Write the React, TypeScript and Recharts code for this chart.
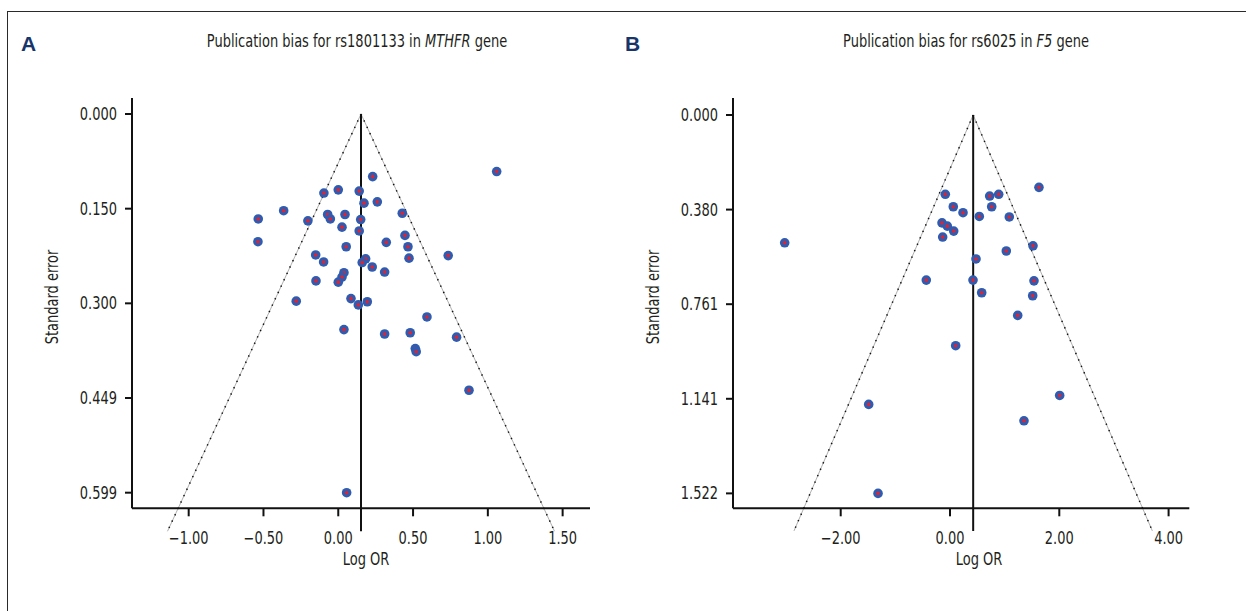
import React from "react";
import { ScatterChart, Scatter, XAxis, YAxis, ReferenceLine } from "recharts";

// ---------- Panel A: rs1801133 in MTHFR ----------
const aLogOR = [0.230, -0.096, 0.000, 0.140, 0.172, 0.261, -0.535, -0.365, -0.203, -0.071,
  -0.053, 0.045, 0.150, 0.025, 0.140, -0.537, 0.053, -0.151, -0.098, 0.183,
  0.160, 0.227, 0.038, 0.025, 0.000, -0.149, -0.281, 0.085, 0.134, 0.194,
  0.038, 1.059, 0.428, 0.446, 0.321, 0.466, 0.473, 0.735, 0.310, 0.593,
  0.310, 0.481, 0.791, 0.515, 0.521, 0.874, 0.056];
const aSE = [0.099, 0.125, 0.120, 0.122, 0.141, 0.139, 0.166, 0.153, 0.169, 0.159,
  0.166, 0.159, 0.167, 0.179, 0.185, 0.202, 0.210, 0.223, 0.234, 0.229,
  0.235, 0.242, 0.251, 0.258, 0.266, 0.264, 0.296, 0.292, 0.302, 0.297,
  0.341, 0.091, 0.157, 0.192, 0.203, 0.210, 0.228, 0.224, 0.250, 0.321,
  0.348, 0.346, 0.353, 0.371, 0.376, 0.437, 0.599];
const aPooled = 0.152;
const aFunnelEnd = 0.66;
const aXTicks = [-1, -0.5, 0, 0.5, 1, 1.5];
const aXLabels = ["\u22121.00", "\u22120.50", "0.00", "0.50", "1.00", "1.50"];
const aYTicks = [0, 0.14975, 0.2995, 0.44925, 0.599];
const aYLabels = ["0.000", "0.150", "0.300", "0.449", "0.599"];
const aXDomain = [-1.379, 1.683];
const aYDomain = [-0.0253, 0.6237];

// ---------- Panel B: rs6025 in F5 ----------
const bLogOR = [1.628, -0.086, 0.726, 0.891, 0.060, 0.763, 0.238, 0.536, 1.085, -0.146,
  -0.049, 0.068, -0.134, -3.025, 1.519, 1.030, 0.476, -0.434, 0.421, 1.537,
  0.580, 1.513, 1.239, 0.104, -1.488, 2.007, 1.354, -1.317];
const bSE = [0.291, 0.319, 0.326, 0.319, 0.369, 0.369, 0.393, 0.408, 0.410, 0.434,
  0.447, 0.467, 0.491, 0.514, 0.526, 0.547, 0.579, 0.664, 0.664, 0.667,
  0.715, 0.727, 0.806, 0.928, 1.164, 1.128, 1.230, 1.522];
const bPooled = 0.424;
const bFunnelEnd = 1.673;
const bXTicks = [-2, 0, 2, 4];
const bXLabels = ["\u22122.00", "0.00", "2.00", "4.00"];
const bYTicks = [0, 0.3805, 0.761, 1.1415, 1.522];
const bYLabels = ["0.000", "0.380", "0.761", "1.141", "1.522"];
const bXDomain = [-3.971, 4.379];
const bYDomain = [-0.0684, 1.582];

const FONT = "'Liberation Sans Narrow', 'Arial Narrow', 'DejaVu Sans Condensed', sans-serif";
const TEXT = "#231f20";
const SQ = 0.85; // horizontal squeeze to mimic a condensed face

const Dot = (props: any) => {
  const { cx, cy } = props;
  if (cx == null || cy == null) return null;
  return (
    <g>
      <circle cx={cx} cy={cy} r={4.8} fill="#2f5cb0" />
      <circle cx={cx} cy={cy} r={1.8} fill="#e3222b" />
    </g>
  );
};

type PanelProps = {
  logOR: number[];
  se: number[];
  pooled: number;
  funnelEnd: number;
  xTicks: number[];
  xLabels: string[];
  yTicks: number[];
  yLabels: string[];
  xDomain: number[];
  yDomain: number[];
  width: number;
  margin: { top: number; right: number; bottom: number; left: number };
};

function Panel(p: PanelProps) {
  const data = p.logOR.map((x, i) => ({ x, y: p.se[i] }));
  const lx = (v: any) => {
    const i = p.xTicks.findIndex((t) => Math.abs(t - v) < 1e-9);
    return i >= 0 ? p.xLabels[i] : String(v);
  };
  const ly = (v: any) => {
    const i = p.yTicks.findIndex((t) => Math.abs(t - v) < 1e-9);
    return i >= 0 ? p.yLabels[i] : String(v);
  };
  const XTick = (t: any) => (
    <text
      transform={`translate(${t.x},${t.y}) scale(${SQ},1)`}
      dy="0.71em"
      textAnchor="middle"
      fontSize={17}
      fill={TEXT}
      fontFamily={FONT}
    >
      {lx(t.payload.value)}
    </text>
  );
  const YTick = (t: any) => (
    <text
      transform={`translate(${t.x},${t.y}) scale(${SQ},1)`}
      dy="0.355em"
      textAnchor="end"
      fontSize={17}
      fill={TEXT}
      fontFamily={FONT}
    >
      {ly(t.payload.value)}
    </text>
  );
  const leftEnd = p.pooled - 1.96 * p.funnelEnd;
  const rightEnd = p.pooled + 1.96 * p.funnelEnd;
  return (
    <ScatterChart width={p.width} height={611} margin={p.margin}>
      <XAxis
        type="number"
        dataKey="x"
        domain={p.xDomain}
        allowDataOverflow
        ticks={p.xTicks}
        interval={0}
        height={50}
        axisLine={{ stroke: "#111", strokeWidth: 2 }}
        tickLine={{ stroke: "#111", strokeWidth: 2 }}
        tickSize={8}
        tickMargin={16}
        tick={XTick}
      />
      <YAxis
        type="number"
        dataKey="y"
        reversed
        domain={p.yDomain}
        allowDataOverflow
        ticks={p.yTicks}
        interval={0}
        width={60}
        axisLine={{ stroke: "#111", strokeWidth: 2 }}
        tickLine={{ stroke: "#111", strokeWidth: 2 }}
        tickSize={7}
        tickMargin={8}
        tick={YTick}
      />
      <ReferenceLine
        segment={[{ x: p.pooled, y: 0 }, { x: leftEnd, y: p.funnelEnd }]}
        stroke="#9c9c9c"
        strokeWidth={0.8}
        ifOverflow="visible"
      />
      <ReferenceLine
        segment={[{ x: p.pooled, y: 0 }, { x: leftEnd, y: p.funnelEnd }]}
        stroke="#111"
        strokeWidth={1.5}
        strokeDasharray="1.4 5.6"
        ifOverflow="visible"
      />
      <ReferenceLine
        segment={[{ x: p.pooled, y: 0 }, { x: rightEnd, y: p.funnelEnd }]}
        stroke="#9c9c9c"
        strokeWidth={0.8}
        ifOverflow="visible"
      />
      <ReferenceLine
        segment={[{ x: p.pooled, y: 0 }, { x: rightEnd, y: p.funnelEnd }]}
        stroke="#111"
        strokeWidth={1.5}
        strokeDasharray="1.4 5.6"
        ifOverflow="visible"
      />
      <ReferenceLine
        segment={[{ x: p.pooled, y: 0 }, { x: p.pooled, y: p.funnelEnd }]}
        stroke="#111"
        strokeWidth={2}
        ifOverflow="visible"
      />
      <Scatter data={data} shape={Dot} isAnimationActive={false} />
    </ScatterChart>
  );
}

const abs = (style: React.CSSProperties): React.CSSProperties => ({
  position: "absolute",
  fontFamily: FONT,
  color: TEXT,
  whiteSpace: "nowrap",
  ...style,
});

export default function App() {
  return (
    <div style={{ position: "absolute", left: 0, top: 0, width: 1246, height: 611, background: "#fff", overflow: "hidden" }}>
      <div style={{ position: "absolute", left: 7, top: 11, width: 1246, height: 620, borderTop: "1.5px solid #2a2a2a", borderLeft: "1.5px solid #2a2a2a" }} />
      <div style={{ position: "absolute", left: 0, top: 0 }}>
        <Panel
          logOR={aLogOR}
          se={aSE}
          pooled={aPooled}
          funnelEnd={aFunnelEnd}
          xTicks={aXTicks}
          xLabels={aXLabels}
          yTicks={aYTicks}
          yLabels={aYLabels}
          xDomain={aXDomain}
          yDomain={aYDomain}
          width={620}
          margin={{ top: 98, right: 30, bottom: 52.7, left: 72 }}
        />
      </div>
      <div style={{ position: "absolute", left: 620, top: 0 }}>
        <Panel
          logOR={bLogOR}
          se={bSE}
          pooled={bPooled}
          funnelEnd={bFunnelEnd}
          xTicks={bXTicks}
          xLabels={bXLabels}
          yTicks={bYTicks}
          yLabels={bYLabels}
          xDomain={bXDomain}
          yDomain={bYDomain}
          width={626}
          margin={{ top: 98, right: 56.7, bottom: 52.7, left: 53 }}
        />
      </div>
      <div style={abs({ left: 21, top: 32, fontSize: 21, fontWeight: 700, color: "#17356a", fontFamily: "'Liberation Sans', Arial, sans-serif", lineHeight: "24px" })}>A</div>
      <div style={abs({ left: 625, top: 32, fontSize: 21, fontWeight: 700, color: "#17356a", fontFamily: "'Liberation Sans', Arial, sans-serif", lineHeight: "24px" })}>B</div>
      <div style={abs({ left: 357, top: 41, fontSize: 17, lineHeight: "22px", transform: `translate(-50%, -50%) scaleX(${SQ})` })}>
        Publication bias for rs1801133 in <i>MTHFR</i> gene
      </div>
      <div style={abs({ left: 965.5, top: 41, fontSize: 17, lineHeight: "22px", transform: `translate(-50%, -50%) scaleX(${SQ})` })}>
        Publication bias for rs6025 in <i>F5</i> gene
      </div>
      <div style={abs({ left: 52, top: 297, fontSize: 17, lineHeight: "20px", transform: `translate(-50%, -50%) rotate(-90deg) scaleX(${SQ})` })}>Standard error</div>
      <div style={abs({ left: 653, top: 297, fontSize: 17, lineHeight: "20px", transform: `translate(-50%, -50%) rotate(-90deg) scaleX(${SQ})` })}>Standard error</div>
      <div style={abs({ left: 365.5, top: 559, fontSize: 17, lineHeight: "20px", transform: `translate(-50%, -50%) scaleX(${SQ})` })}>Log OR</div>
      <div style={abs({ left: 979, top: 559, fontSize: 17, lineHeight: "20px", transform: `translate(-50%, -50%) scaleX(${SQ})` })}>Log OR</div>
    </div>
  );
}
